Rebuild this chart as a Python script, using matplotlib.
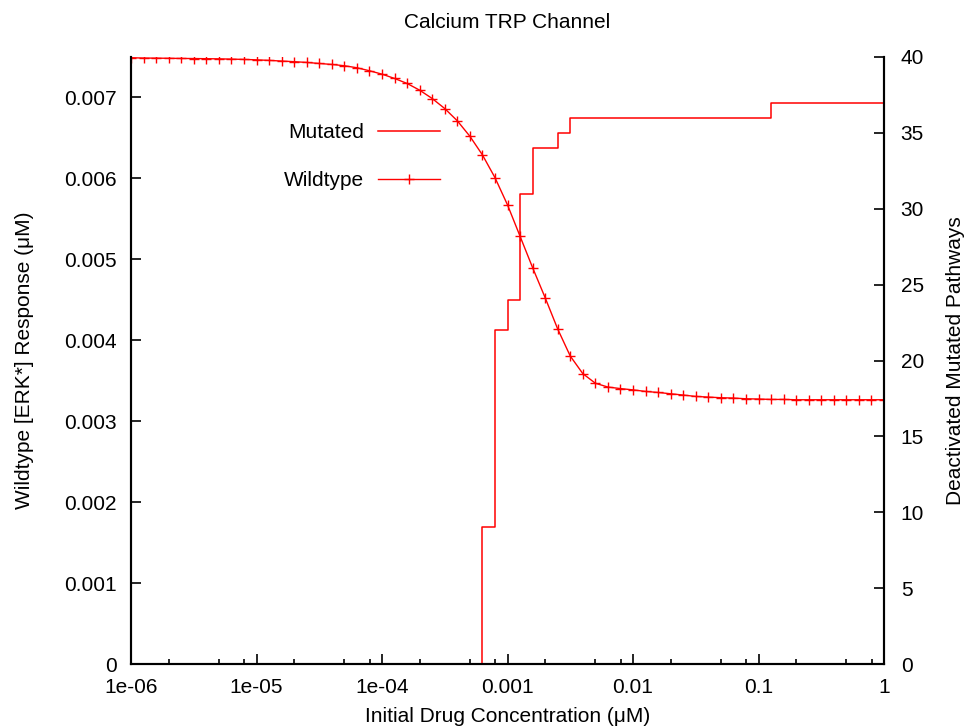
import numpy as np
import matplotlib
matplotlib.use("Agg")
import matplotlib.pyplot as plt
from matplotlib.ticker import FixedLocator, NullFormatter

plt.rcParams["font.family"] = ["Liberation Sans", "DejaVu Sans"]

# drug concentration sweep (uM), 10 points per decade
conc = [
    1.0e-06, 1.259e-06, 1.585e-06, 1.995e-06, 2.512e-06, 3.162e-06, 3.981e-06, 5.012e-06, 6.310e-06, 7.943e-06,
    1.0e-05, 1.259e-05, 1.585e-05, 1.995e-05, 2.512e-05, 3.162e-05, 3.981e-05, 5.012e-05, 6.310e-05, 7.943e-05,
    1.0e-04, 1.259e-04, 1.585e-04, 1.995e-04, 2.512e-04, 3.162e-04, 3.981e-04, 5.012e-04, 6.310e-04, 7.943e-04,
    1.0e-03, 1.259e-03, 1.585e-03, 1.995e-03, 2.512e-03, 3.162e-03, 3.981e-03, 5.012e-03, 6.310e-03, 7.943e-03,
    1.0e-02, 1.259e-02, 1.585e-02, 1.995e-02, 2.512e-02, 3.162e-02, 3.981e-02, 5.012e-02, 6.310e-02, 7.943e-02,
    1.0e-01, 1.259e-01, 1.585e-01, 1.995e-01, 2.512e-01, 3.162e-01, 3.981e-01, 5.012e-01, 6.310e-01, 7.943e-01,
    1.0,
]

# wildtype [ERK*] response, x1e-3 uM
wildtype = [
    7.491, 7.487, 7.486, 7.484, 7.482, 7.481, 7.479, 7.477, 7.474, 7.470,
    7.465, 7.458, 7.450, 7.442, 7.433, 7.420, 7.408, 7.392, 7.367, 7.330,
    7.288, 7.235, 7.173, 7.090, 6.987, 6.863, 6.712, 6.521, 6.291, 6.010,
    5.673, 5.285, 4.897, 4.526, 4.139, 3.805, 3.588, 3.469, 3.422, 3.403,
    3.387, 3.368, 3.355, 3.339, 3.323, 3.306, 3.298, 3.290, 3.286, 3.277,
    3.274, 3.269, 3.269, 3.265, 3.265, 3.265, 3.265, 3.265, 3.265, 3.265,
    3.265,
]

# deactivated mutated pathways
mutated = [0] * 28 + [9, 22, 24, 31, 34, 34, 35] + [36] * 16 + [37] * 10

x_ticks = [1e-06, 1e-05, 1e-04, 1e-03, 1e-02, 1e-01, 1]
x_labels = ["1e-06", "1e-05", "1e-04", "0.001", "0.01", "0.1", "1"]
y_ticks = [0, 0.001, 0.002, 0.003, 0.004, 0.005, 0.006, 0.007]
y_labels = ["0", "0.001", "0.002", "0.003", "0.004", "0.005", "0.006", "0.007"]
y2_ticks = [0, 5, 10, 15, 20, 25, 30, 35, 40]

FS = 15

fig = plt.figure(figsize=(9.67, 7.27), dpi=100)
ax = fig.add_axes([131 / 967, 1 - 664 / 727, 753 / 967, 607 / 727])
ax2 = ax.twinx()

red = "#ff0000"
(l_mut,) = ax2.plot(conc, mutated, drawstyle="steps-post", color=red, lw=1.1,
                    label="Mutated")
(l_wt,) = ax.plot(conc, np.array(wildtype) * 1e-3, color=red, lw=1.0,
                  marker="+", markersize=7, markeredgewidth=1.0, label="Wildtype")

ax.set_xscale("log")
ax.set_xlim(1e-06, 1)
ax.set_ylim(0, 0.0075)
ax2.set_ylim(0, 40)

ax.set_xticks(x_ticks)
ax.set_xticklabels(x_labels)
minors = [m * d for d in [1e-06, 1e-05, 1e-04, 1e-03, 1e-02, 1e-01] for m in (2, 5, 8)]
ax.xaxis.set_minor_locator(FixedLocator(minors))
ax.xaxis.set_minor_formatter(NullFormatter())
ax.set_yticks(y_ticks)
ax.set_yticklabels(y_labels)
ax2.set_yticks(y2_ticks)

for a in (ax, ax2):
    a.spines["top"].set_visible(False)
    for s in a.spines.values():
        s.set_linewidth(1.5)

ax.tick_params(axis="both", which="major", direction="in", length=7, width=1.2,
               labelsize=FS, pad=10, top=False, right=False)
ax.tick_params(axis="x", which="minor", direction="in", length=3.5, width=1.2, top=False)
ax2.tick_params(axis="y", which="major", direction="in", length=7, width=1.2,
                labelsize=FS, pad=12)

ax.set_title("Calcium TRP Channel", fontsize=FS, pad=21)
ax.set_xlabel("Initial Drug Concentration (μM)", fontsize=FS, labelpad=7)
ax.set_ylabel("Wildtype [ERK*] Response (μM)", fontsize=FS, labelpad=22)
ax2.set_ylabel("Deactivated Mutated Pathways", fontsize=FS, labelpad=16)

fig.legend(handles=[l_mut, l_wt], loc="upper right",
           bbox_to_anchor=(440 / 967, 1 - 123 / 727), bbox_transform=fig.transFigure,
           frameon=False, markerfirst=False, numpoints=1, fontsize=FS,
           handlelength=3.0, handletextpad=0.65, labelspacing=1.4,
           borderpad=0, borderaxespad=0)

fig.savefig("out.png", dpi=100)
